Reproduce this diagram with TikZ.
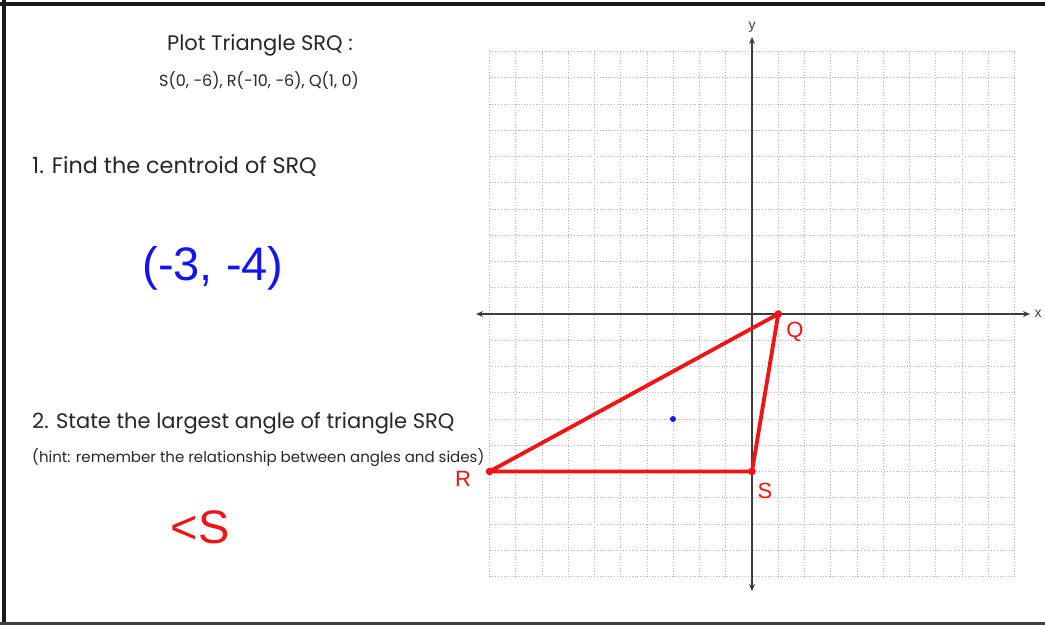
\documentclass[tikz,border=0pt]{standalone}
\usepackage{fontspec}
\setmainfont{Poppins}
\newfontfamily\arialf{Liberation Sans}
\usetikzlibrary{arrows.meta}
\definecolor{gridgray}{RGB}{175,175,175}
\definecolor{axisgray}{RGB}{60,60,60}
\definecolor{ansblue}{RGB}{20,20,240}
\definecolor{ansred}{RGB}{240,20,20}
\tikzset{
  gridline/.style={gridgray, line width=0.9pt, dotted},
  axisline/.style={axisgray, line width=1.4pt, {Stealth[length=7pt,width=6pt]}-{Stealth[length=7pt,width=6pt]}},
  tri/.style={ansred, line width=3.8pt, line join=round, line cap=round},
  vlabel/.style={ansred, font=\arialf\fontsize{22}{26}\selectfont, inner sep=0pt},
  txt/.style={inner sep=0pt, anchor=west, text=black!85},
}
\begin{document}
\begin{tikzpicture}[x=1pt,y=-1pt]
\useasboundingbox (0,0) rectangle (1045,625);
% frame
\draw[black!90, line width=4pt] (0,4) -- (1045,4);
\draw[black!90, line width=4pt] (4,0) -- (4,625);
\draw[black!75, line width=2.5pt] (0,623.5) -- (1045,623.5);
% grid
\foreach \i in {-10,...,10} {
  \draw[gridline] (752+\i*26.25,51.5) -- (752+\i*26.25,576.5);
  \draw[gridline] (489.5,314+\i*26.25) -- (1014.5,314+\i*26.25);
}
% axes
\coordinate (xl) at (476,314);
\coordinate (xr) at (1030,314);
\coordinate (yt) at (752,37);
\coordinate (yb) at (752,591);
\draw[axisline] (xl) -- (xr);
\draw[axisline] (yb) -- (yt);
\node[inner sep=0pt, font=\arialf\fontsize{14}{16}\selectfont, text=axisgray] (xlab) at (1038,314) {x};
\node[inner sep=0pt, font=\arialf\fontsize{14}{16}\selectfont, text=axisgray] (ylab) at (752,27) {y};
% triangle
\coordinate (S) at (752,471.5);
\coordinate (R) at (489.5,471.5);
\coordinate (Q) at (778.25,314);
\draw[tri] (S) -- (R) -- (Q) -- cycle;
\foreach \p in {S,R,Q} \fill[ansred] (\p) circle (3.8pt);
\node[vlabel] (Slab) at (765,491) {S};
\node[vlabel] (Rlab) at (463,479) {R};
\node[vlabel] (Qlab) at (795,332) {Q};
% centroid
\node[circle, fill=ansblue, inner sep=0pt, minimum size=6pt] (G) at (673,419) {};
% texts
\node[inner sep=0pt, text=black!85, font=\fontsize{21}{25}\selectfont] (t1) at (260,45) {Plot Triangle SRQ :};
\node[inner sep=0pt, text=black!85, font=\fontsize{16}{19}\selectfont] (t2) at (259,81) {S(0, −6), R(−10, −6), Q(1, 0)};
\node[txt, font=\fontsize{22.3}{26}\selectfont] (t3) at (32,166) {1. Find the centroid of SRQ};
\node[inner sep=0pt, text=ansblue, font=\arialf\fontsize{47}{54}\selectfont] (a1) at (213,268) {(-3, -4)};
\node[txt, font=\fontsize{21}{25}\selectfont] (t4) at (32,423) {2. State the largest angle of triangle SRQ};
\node[txt, font=\fontsize{15}{18}\selectfont] (t5) at (32,458) {(hint: remember the relationship between angles and sides)};
\node[inner sep=0pt, text=ansred, font=\arialf\fontsize{47}{54}\selectfont] (a2) at (200,527) {<S};
\end{tikzpicture}
\end{document}
